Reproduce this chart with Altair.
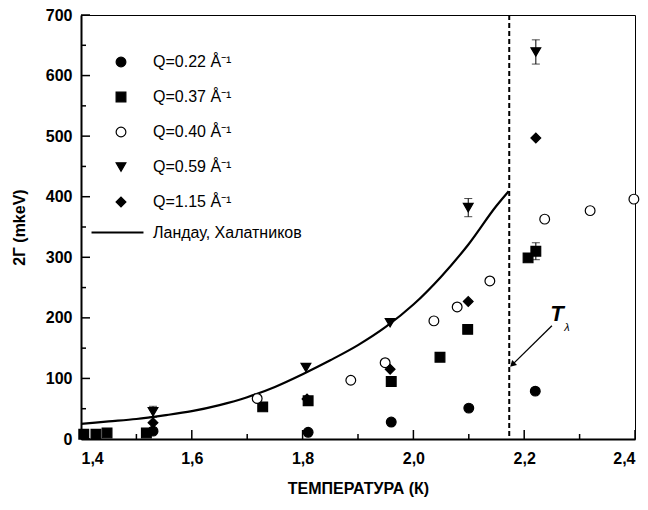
import altair as alt
import pandas as pd

# ---------------- data ----------------
SERIES = ["Q=0.22 Å⁻¹", "Q=0.37 Å⁻¹", "Q=0.40 Å⁻¹", "Q=0.59 Å⁻¹", "Q=1.15 Å⁻¹"]

q022_T = [1.53, 1.81, 1.96, 2.10, 2.22]
q022_G = [13, 11, 28, 51, 79]

q037_T = [1.405, 1.427, 1.447, 1.518, 1.728, 1.81, 1.96, 2.048, 2.098, 2.207, 2.221]
q037_G = [8, 8, 10, 10, 53, 63, 95, 135, 181, 299, 310]

q040_T = [1.718, 1.887, 1.949, 2.037, 2.079, 2.138, 2.237, 2.319, 2.398]
q040_G = [67, 97, 126, 195, 218, 261, 363, 377, 396]

q059_T = [1.53, 1.806, 1.958, 2.099, 2.221]
q059_G = [45, 118, 192, 382, 639]

q115_T = [1.53, 1.808, 1.958, 2.099, 2.221]
q115_G = [27, 66, 115, 227, 497]

# error bars
err_T = [1.53, 2.099, 2.221, 2.221]
err_G = [45, 382, 639, 310]
err_d = [9, 15, 20, 14]

# Landau-Khalatnikov curve
lk_T = [1.40, 1.45, 1.50, 1.55, 1.60, 1.65, 1.70, 1.75, 1.80, 1.85, 1.90,
        1.95, 2.00, 2.05, 2.10, 2.15, 2.172]
lk_G = [25, 29, 33, 39, 46, 56, 69, 86, 107, 130, 155, 185, 222, 268, 322, 385, 409]
LK_LABEL = "Ландау, Халатников"

T_LAMBDA = 2.173

# annotation arrow (from -> to)
arrow_T = [2.250, 2.180]
arrow_G = [187, 124]
label_T = [2.259]
label_G = [207]
sub_T = [2.277]
sub_G = [184]

x_major = [1.4, 1.6, 1.8, 2.0, 2.2, 2.4]
x_minor = [1.5, 1.7, 1.9, 2.1, 2.3]
y_major = [0, 100, 200, 300, 400, 500, 600, 700]
y_minor = [50, 150, 250, 350, 450, 550, 650]

FONT = "Liberation Sans"
W, H = 554, 424

# ---------------- tables ----------------
rows = []
for name, ts, gs in zip(SERIES,
                        [q022_T, q037_T, q040_T, q059_T, q115_T],
                        [q022_G, q037_G, q040_G, q059_G, q115_G]):
    for t, g in zip(ts, gs):
        rows.append({"T": t, "G": g, "series": name})
pts = pd.DataFrame(rows)

err = pd.DataFrame({"T": err_T, "lo": [g - d for g, d in zip(err_G, err_d)],
                    "hi": [g + d for g, d in zip(err_G, err_d)]})
err_caps = pd.DataFrame({"T": err_T * 2,
                         "G": [g - d for g, d in zip(err_G, err_d)] + [g + d for g, d in zip(err_G, err_d)]})
lk = pd.DataFrame({"T": lk_T, "G": lk_G, "name": [LK_LABEL] * len(lk_T)})

xs = alt.Scale(domain=[1.4, 2.4], nice=False, zero=False)
ys = alt.Scale(domain=[0, 700], nice=False)

AX = dict(grid=False, tickSize=0, domainColor="black", domainWidth=2,
          labelFont=FONT, titleFont=FONT, labelFontSize=16, labelFontWeight="bold",
          labelColor="black", titleFontSize=16, titleFontWeight="bold", titleColor="black")

x_axis = alt.Axis(values=x_major, labelExpr="replace(format(datum.value, '.1f'), '.', ',')",
                  title="ТЕМПЕРАТУРА (К)", labelPadding=11, titlePadding=14, **AX)
y_axis = alt.Axis(values=y_major, title="2Γ (mkeV)", labelPadding=9, titlePadding=18,
                  labelBound=False, **AX)

base_x = alt.X("T:Q", scale=xs, axis=x_axis)
base_y = alt.Y("G:Q", scale=ys, axis=y_axis)

# curve
curve = alt.Chart(lk).mark_line(strokeWidth=2.2, interpolate="monotone").encode(
    x=base_x, y=base_y,
    color=alt.Color("name:N", scale=alt.Scale(domain=[LK_LABEL], range=["black"]),
                    legend=alt.Legend(title=None, orient="none", legendX=9, legendY=190,
                                      symbolType="stroke", symbolSize=2700,
                                      symbolStrokeWidth=2.2, labelFontSize=16,
                                      labelFont=FONT, labelColor="black", labelOffset=8))
)

# T-lambda dashed line
tl = alt.Chart(pd.DataFrame({"T": [T_LAMBDA]})).mark_rule(
    strokeDash=[5, 3], strokeWidth=2, color="black").encode(
    x=alt.X("T:Q", scale=xs), y=alt.value(0), y2=alt.value(H))

# error bars
ebar = alt.Chart(err).mark_rule(color="black", strokeWidth=1).encode(
    x=alt.X("T:Q", scale=xs), y=alt.Y("lo:Q", scale=ys), y2="hi:Q")
ecap = alt.Chart(err_caps).mark_tick(color="black", orient="horizontal", size=8, thickness=1).encode(
    x=alt.X("T:Q", scale=xs), y=alt.Y("G:Q", scale=ys))

LEG = dict(title=None, orient="none", legendX=32, legendY=39,
           labelFontSize=16, labelFont=FONT, labelColor="black",
           rowPadding=19, symbolSize=95, symbolStrokeColor="black",
           symbolStrokeWidth=1.2, labelOffset=24)

# points
points = alt.Chart(pts).mark_point(filled=False, size=95, strokeWidth=1.2, opacity=1).encode(
    x=alt.X("T:Q", scale=xs), y=alt.Y("G:Q", scale=ys),
    shape=alt.Shape("series:N", scale=alt.Scale(
        domain=SERIES, range=["circle", "square", "circle", "triangle-down", "diamond"]),
        legend=alt.Legend(**LEG)),
    fill=alt.Fill("series:N", scale=alt.Scale(
        domain=SERIES, range=["black", "black", "white", "black", "black"]),
        legend=alt.Legend(**LEG)),
    stroke=alt.Stroke("series:N", scale=alt.Scale(
        domain=SERIES, range=["black"] * 5), legend=alt.Legend(**LEG)),
)

# arrow
arr = pd.DataFrame({"T": [arrow_T[0]], "G": [arrow_G[0]], "T2": [arrow_T[1]], "G2": [arrow_G[1]]})
arrow_line = alt.Chart(arr).mark_rule(color="black", strokeWidth=1.3).encode(
    x=alt.X("T:Q", scale=xs), y=alt.Y("G:Q", scale=ys), x2="T2:Q", y2="G2:Q")
arrow_head = alt.Chart(pd.DataFrame({"T": [arrow_T[1]], "G": [arrow_G[1]]})).mark_point(
    shape="triangle", filled=True, size=50, angle=227, color="black", opacity=1).encode(
    x=alt.X("T:Q", scale=xs), y=alt.Y("G:Q", scale=ys))

t_label = alt.Chart(pd.DataFrame({"T": label_T, "G": label_G, "t": ["T"]})).mark_text(
    font=FONT, fontSize=22, fontWeight="bold", fontStyle="italic", color="black").encode(
    x=alt.X("T:Q", scale=xs), y=alt.Y("G:Q", scale=ys), text="t:N")
t_sub = alt.Chart(pd.DataFrame({"T": sub_T, "G": sub_G, "t": ["λ"]})).mark_text(
    font=FONT, fontSize=11, fontStyle="italic", color="black").encode(
    x=alt.X("T:Q", scale=xs), y=alt.Y("G:Q", scale=ys), text="t:N")

# inward ticks
xt_major = alt.Chart(pd.DataFrame({"T": x_major})).mark_rule(color="black", strokeWidth=1.5).encode(
    x=alt.X("T:Q", scale=xs), y=alt.value(H), y2=alt.value(H - 9))
xt_minor = alt.Chart(pd.DataFrame({"T": x_minor})).mark_rule(color="black", strokeWidth=1.5).encode(
    x=alt.X("T:Q", scale=xs), y=alt.value(H), y2=alt.value(H - 5))
yt_major = alt.Chart(pd.DataFrame({"G": y_major})).mark_rule(color="black", strokeWidth=1.5).encode(
    y=alt.Y("G:Q", scale=ys), x=alt.value(0), x2=alt.value(9))
yt_minor = alt.Chart(pd.DataFrame({"G": y_minor})).mark_rule(color="black", strokeWidth=1.5).encode(
    y=alt.Y("G:Q", scale=ys), x=alt.value(0), x2=alt.value(5))

chart = alt.layer(
    curve, tl, xt_major, xt_minor, yt_major, yt_minor, ebar, ecap, points,
    arrow_line, arrow_head, t_label, t_sub
).resolve_scale(color="independent").properties(
    width=W, height=H,
    background="white",
    autosize=alt.AutoSizeParams(type="none"),
    padding={"left": 73, "top": 7, "right": 5, "bottom": 63},
).configure_view(
    stroke="black", strokeWidth=1
)

chart.save("out.html", embed_options={"renderer": "svg", "actions": False})
